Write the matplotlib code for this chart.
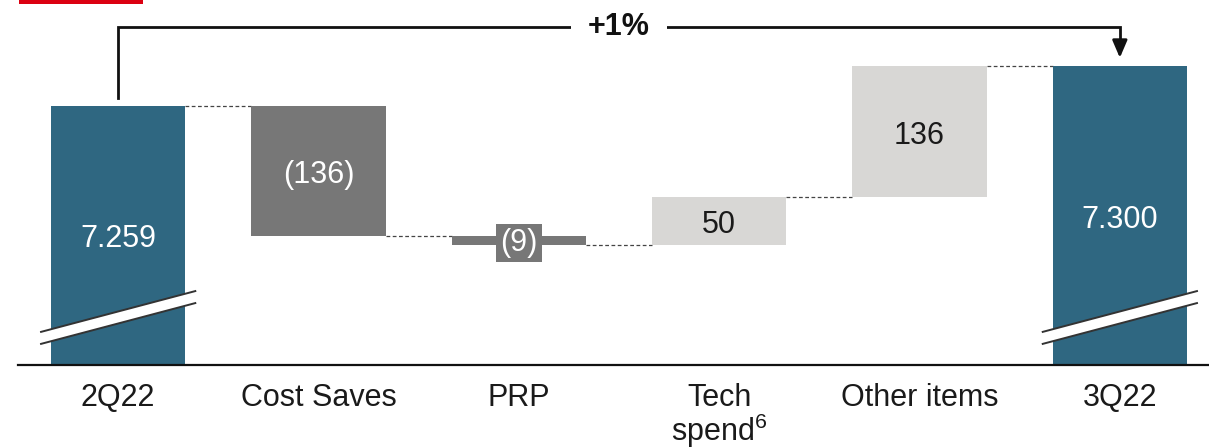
import numpy as np
import matplotlib
matplotlib.use("Agg")
import matplotlib.pyplot as plt
from matplotlib.patches import Rectangle, Polygon

plt.rcParams['font.family'] = ['Liberation Sans', 'DejaVu Sans']
plt.rcParams['mathtext.fontset'] = 'custom'
plt.rcParams['mathtext.rm'] = 'Liberation Sans'
plt.rcParams['mathtext.it'] = 'Liberation Sans'

categories = ['2Q22', 'Cost Saves', 'PRP', 'Tech\nspend$^{6}$', 'Other items', '3Q22']
values = [7259, -136, -9, 50, 136, 7300]
is_total = [True, False, False, False, False, True]
growth_label = '+1%'

teal = '#2F6781'
dark_grey = '#777777'
light_grey = '#D8D7D5'
y_floor = 6989

# waterfall bottoms / tops
bottoms, tops = [], []
running = 0
for v, t in zip(values, is_total):
    if t:
        bottoms.append(y_floor)
        tops.append(v)
        running = v
    else:
        lo, hi = sorted([running, running + v])
        bottoms.append(lo)
        tops.append(hi)
        running += v

colors = []
for v, t in zip(values, is_total):
    if t:
        colors.append(teal)
    elif v < 0:
        colors.append(dark_grey)
    else:
        colors.append(light_grey)

fig = plt.figure(figsize=(12.09, 4.48), dpi=100)
ax = fig.add_axes([18/1209, 83/448, 1191/1209, 365/448])
x = np.arange(len(categories))
w = 0.67
ax.bar(x, np.array(tops) - np.array(bottoms), bottom=bottoms, width=w,
       color=colors, zorder=2)
ax.set_xlim(-0.5, 5.445)
ax.set_ylim(y_floor, y_floor + 365/0.96)

for s in ['top', 'left', 'right']:
    ax.spines[s].set_visible(False)
ax.spines['bottom'].set_linewidth(1.6)
ax.spines['bottom'].set_color('#111111')
ax.set_yticks([])
ax.set_xticks(x)
ax.set_xticklabels(categories, fontsize=22, color='#1a1a1a', linespacing=0.95)
ax.tick_params(axis='x', length=0, pad=13)

# connectors
level = values[0]
for i in range(len(values) - 1):
    ax.plot([x[i] + w/2, x[i + 1] - w/2], [level, level], ls=(0, (3, 2)),
            color='#444444', lw=0.9, zorder=1)
    level = values[i + 1] if is_total[i + 1] else level + values[i + 1]

# value labels
dy = -4
for i, (v, t) in enumerate(zip(values, is_total)):
    if t:
        txt = f"{v/1000:.3f}"
        ax.text(x[i], (tops[i] + y_floor) / 2 + dy, txt, ha='center', va='center',
                fontsize=22, color='white', zorder=4)
    elif v < 0:
        txt = f"({abs(v)})"
        if abs(v) < 30:
            ax.text(x[i], (tops[i] + bottoms[i]) / 2 - 2, txt, ha='center', va='center',
                    fontsize=22, color='white', zorder=4,
                    bbox=dict(boxstyle='square,pad=0.13', fc=dark_grey, ec='none'))
        else:
            ax.text(x[i], (tops[i] + bottoms[i]) / 2 + dy, txt, ha='center', va='center',
                    fontsize=22, color='white', zorder=4)
    else:
        ax.text(x[i], (tops[i] + bottoms[i]) / 2 + dy, f"{v}", ha='center', va='center',
                fontsize=22, color='#1a1a1a', zorder=4)

# axis break marks on the total bars
for i, t in enumerate(is_total):
    if not t:
        continue
    x0, x1 = x[i] - 0.385, x[i] + 0.385
    lo_l, lo_r = y_floor + 34.5, y_floor + 77
    gap = 12.5
    band = Polygon([[x0, lo_l - gap], [x1, lo_r - gap], [x1, lo_r], [x0, lo_l]],
                   closed=True, fc='white', ec='none', zorder=3)
    ax.add_patch(band)
    ax.plot([x0, x1], [lo_l, lo_r], color='#333333', lw=1.4, zorder=3)
    ax.plot([x0, x1], [lo_l - gap, lo_r - gap], color='#333333', lw=1.4, zorder=3)

# growth bracket
y_top = y_floor + 338/0.96
ax.plot([x[0], x[0], x[-1], x[-1]], [values[0] + 8, y_top, y_top, values[-1] + 24],
        color='#111111', lw=2, zorder=3, clip_on=False, solid_joinstyle='miter')
ax.annotate('', xy=(x[-1], values[-1] + 9), xytext=(x[-1], values[-1] + 26),
            arrowprops=dict(arrowstyle='-|>,head_width=0.45,head_length=1.05',
                            color='#111111', lw=2, shrinkA=0, shrinkB=0),
            annotation_clip=False)
ax.text((x[0] + x[-1]) / 2, y_top, growth_label, ha='center', va='center',
        fontsize=22, fontweight='bold', color='#111111', zorder=5, clip_on=False,
        bbox=dict(boxstyle='square,pad=0.55', fc='white', ec='none'))

fig.patches.append(Rectangle((19/1209, 1 - 4/448), 124/1209, 4/448,
                             transform=fig.transFigure, fc='#DB0011', ec='none'))

fig.savefig('out.png', dpi=100)
